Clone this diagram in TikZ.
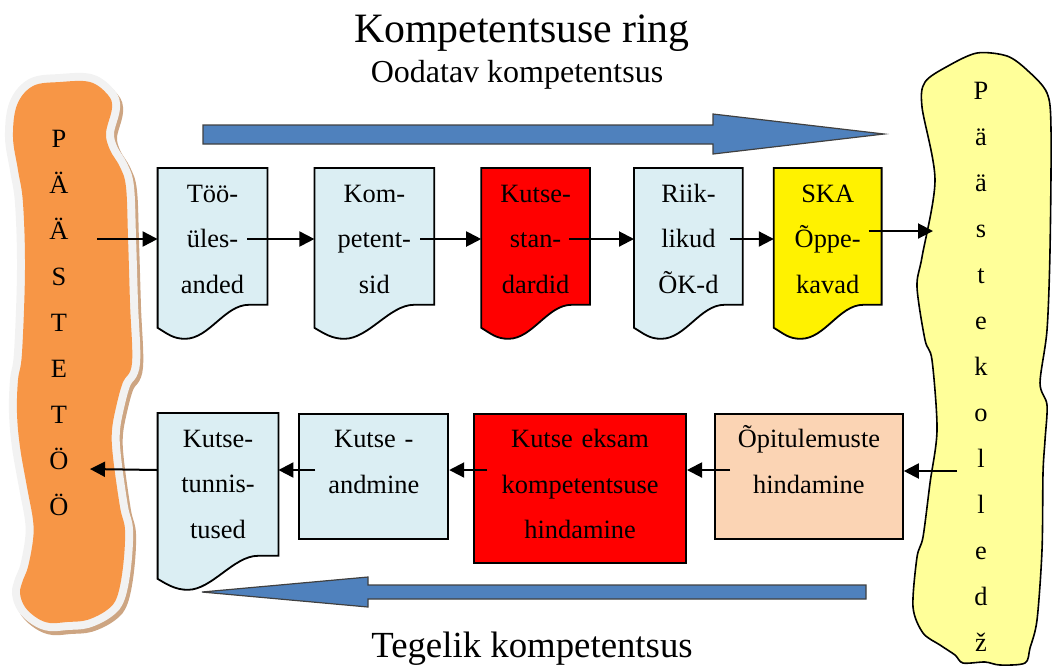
\documentclass[tikz,border=0pt]{standalone}
\usepackage{fontspec}
\setmainfont{Liberation Serif}
\usetikzlibrary{positioning, arrows.meta, calc, backgrounds}
\definecolor{boxblue}{RGB}{219,238,243}
\definecolor{boxpeach}{RGB}{251,212,180}
\definecolor{bannerorange}{RGB}{247,150,70}
\definecolor{banneryellow}{RGB}{255,255,153}
\definecolor{bannershadow}{RGB}{205,165,130}
\definecolor{bannerrim}{RGB}{242,242,242}
\definecolor{arrowblue}{RGB}{79,129,189}
\tikzset{
  conn/.style={-{Triangle[length=7.5pt,width=7.5pt]}, line width=1pt},
  box/.style={inner sep=0pt, align=center, anchor=north, text height=17pt,
    font=\fontsize{13.2}{22.75}\selectfont},
  boxsize/.style 2 args={text width=#1, text depth=#2},
  rectbox/.style={box, draw, line width=0.9pt},
  bigarrow/.style={fill=arrowblue, draw=black!75, line width=0.6pt},
  letters/.style={inner sep=0pt, align=center, anchor=north,
    font=\fontsize{13.2}{23}\selectfont}
}
% document shape with wavy bottom, drawn round a named node
\newcommand{\docshape}[2]{%
  \draw[line width=0.9pt, fill=#2]
    (#1.north west) -- (#1.north east) -- (#1.south east)
    -- ($(#1.south east)!0.17!(#1.south west)$)
    .. controls +(-12pt,0pt) and +(12pt,0pt) .. ($(#1.south west)!0.25!(#1.south east)+(0pt,-17pt)$)
    .. controls +(-6pt,0pt) and +(5pt,-3pt) .. ($(#1.south west)+(0pt,-11.5pt)$)
    -- cycle;}
\newcommand{\pastetoblob}{plot[smooth cycle, tension=0.6] coordinates {
  (17,105) (33,86) (60,82) (90,82) (108,95) (112,108) (106,133) (110,150)
  (120,167) (126,187) (128,237) (130,303) (132,363) (123,382) (117,403)
  (112,430) (113,457) (120,507) (125,530) (123,567) (117,597) (107,610)
  (87,620) (67,622) (50,623) (37,618) (25,607) (20,593) (23,580) (28,567)
  (33,540) (33,520) (27,487) (20,447) (17,413) (18,380) (22,353) (25,270)
  (23,203) (18,170) (13,137)}}

\begin{document}
\begin{tikzpicture}[x=0.5pt, y=-0.5pt]
  \useasboundingbox (0,0) rectangle (1052,666);

  % banners
  \path[fill=bannershadow, draw=bannershadow, line width=8pt, shift={(1.5pt,-2pt)}] \pastetoblob;
  \path[fill=bannerrim, draw=bannerrim, line width=8pt] \pastetoblob;
  \path[fill=bannerorange] \pastetoblob;
  \draw[fill=banneryellow, line width=0.8pt] plot[smooth cycle, tension=0.5] coordinates {
    (925,82) (948,66) (977,53) (1007,56) (1027,70) (1047,93) (1051,130)
    (1050,250) (1047,330) (1040,383) (1047,405) (1045,440) (1043,473)
    (1042,550) (1037,620) (1030,648) (1025,663) (1000,665) (985,662)
    (963,663) (955,655) (940,645) (923,633) (913,607) (917,557) (923,537)
    (930,483) (937,430) (932,360) (925,340) (917,287) (922,257) (935,180)
    (922,107)};
  \node[letters] (paasteto) at (59,130) {P\\Ä\\Ä\\S\\T\\E\\T\\Ö\\Ö};
  \node[letters] (paastekol) at (981,82) {P\\ä\\ä\\s\\t\\e\\k\\o\\l\\l\\e\\d\\ž};

  % titles
  \node[anchor=base, font=\fontsize{20.9}{25}\selectfont] (title) at (522,42) {Kompetentsuse ring};
  \node[anchor=base, font=\fontsize{16}{19}\selectfont] (oodatav) at (517,82) {Oodatav kompetentsus};
  \node[anchor=base, font=\fontsize{18.4}{22}\selectfont] (tegelik) at (532,657) {Tegelik kompetentsus};

  % big arrows
  \draw[bigarrow] (203,125) -- (713,125) -- (713,114) -- (884,134) -- (713,154) -- (713,144) -- (203,144) -- cycle;
  \draw[bigarrow] (866,585) -- (368,585) -- (368,577) -- (202,592) -- (368,607) -- (368,599) -- (866,599) -- cycle;

  % top row
  \node[box, boxsize={54.5pt}{51pt}] (tyo) at (212.5,168) {Töö-\\üles-\\anded};
  \node[box, boxsize={59.5pt}{51pt}, right=23.5pt of tyo.north east, anchor=north west] (komp) {Kom-\\petent-\\sid};
  \node[box, boxsize={54pt}{51pt}, right=23.5pt of komp.north east, anchor=north west] (kutsestd) {Kutse-\\stan-\\dardid};
  \node[box, boxsize={54pt}{51pt}, right=22pt of kutsestd.north east, anchor=north west] (riik) {Riik-\\likud\\ÕK-d};
  \node[box, boxsize={53.5pt}{51pt}, right=15.5pt of riik.north east, anchor=north west] (ska) {SKA\\Õppe-\\kavad};

  % bottom row
  \node[box, boxsize={60pt}{54pt}] (tunnistus) at (218,413) {Kutse-\\tunnis-\\tused};
  \node[rectbox, fill=boxblue, boxsize={74.5pt}{45.5pt}, right=10pt of tunnistus.north east, anchor=north west] (andmine) {Kutse -\\andmine};
  \node[rectbox, fill=red, boxsize={106pt}{57.5pt}, right=12pt of andmine.north east, anchor=north west] (eksam) {Kutse eksam\\kompetentsuse\\hindamine};
  \node[rectbox, fill=boxpeach, boxsize={94pt}{45.5pt}, right=13.5pt of eksam.north east, anchor=north west] (opitul) {Õpitulemuste\\hindamine};

  \begin{scope}[on background layer]
    \docshape{tyo}{boxblue}
    \docshape{komp}{boxblue}
    \docshape{kutsestd}{red}
    \docshape{riik}{boxblue}
    \docshape{ska}{yellow}
    \docshape{tunnistus}{boxblue}
  \end{scope}

  % connectors
  \coordinate (row1) at (0,239);
  \coordinate (row2) at (0,470);
  \coordinate (tyoin) at (97,239);
  \coordinate (kolin) at (933,231);
  \coordinate (kolout) at (957,471);
  \coordinate (tyoout) at (90,469);

  \draw[conn] (tyoin) -- (tyoin -| tyo.west);
  \draw[conn] ([xshift=-10pt]tyo.east |- row1) -- (komp.west |- row1);
  \draw[conn] ([xshift=-7pt]komp.east |- row1) -- (kutsestd.west |- row1);
  \draw[conn] ([xshift=-10.5pt]kutsestd.east |- row1) -- (riik.west |- row1);
  \draw[conn] ([xshift=-6.5pt]riik.east |- row1) -- (ska.west |- row1);
  \draw[conn] ([xshift=-6.5pt]ska.east |- kolin) -- (kolin);

  \draw[conn] (kolout) -- (kolout -| opitul.east);
  \draw[conn] ([xshift=8pt]opitul.west |- row2) -- (eksam.east |- row2);
  \draw[conn] ([xshift=7pt]eksam.west |- row2) -- (andmine.east |- row2);
  \draw[conn] ([xshift=8.5pt]andmine.west |- row2) -- (tunnistus.east |- row2);
  \draw[conn] (tunnistus.west |- row2) -- (tyoout);
\end{tikzpicture}
\end{document}
